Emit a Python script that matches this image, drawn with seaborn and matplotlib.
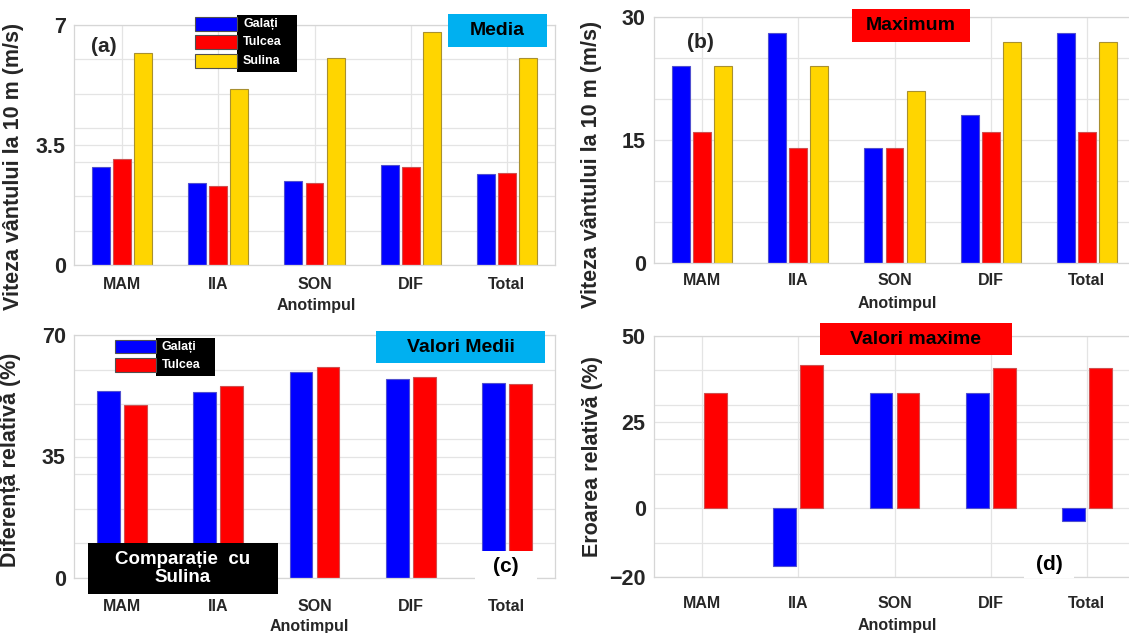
import matplotlib.pyplot as plt
import seaborn as sns
import pandas as pd
from matplotlib.patches import Rectangle

# Data
seasons = ['MAM', 'IIA', 'SON', 'DIF', 'Total']
stations = ['Galați', 'Tulcea', 'Sulina']
colors = ['#0000FF', '#FF0000', '#FFD500']
edges = ['#5050d0', '#d05050', '#a89030']

# (a) wind speed, mean (m/s)
mean_galati = [2.85, 2.39, 2.46, 2.92, 2.66]
mean_tulcea = [3.10, 2.30, 2.38, 2.86, 2.67]
mean_sulina = [6.17, 5.12, 6.04, 6.80, 6.03]
# (b) wind speed, maximum (m/s)
max_galati = [24, 28, 14, 18, 28]
max_tulcea = [16, 14, 14, 16, 16]
max_sulina = [24, 24, 21, 27, 27]
# (c) relative difference vs Sulina, mean values (%)
diff_galati = [54.0, 53.6, 59.3, 57.2, 56.2]
diff_tulcea = [49.8, 55.4, 60.9, 58.0, 56.0]
# (d) relative error vs Sulina, max values (%)
err_galati = [0.0, -16.7, 33.3, 33.3, -3.7]
err_tulcea = [33.3, 41.7, 33.3, 40.8, 40.8]

W, H = 1129, 633
sns.set_theme(style='white')
plt.rcParams['font.family'] = ['Liberation Sans', 'DejaVu Sans']
plt.rcParams['font.weight'] = 'bold'
plt.rcParams['axes.labelweight'] = 'bold'

fig = plt.figure(figsize=(W / 100, H / 100), dpi=100)


def bar_panel(rect, series, names, width, ylim, yticks, step, ylabel,
              ylab_xy, xlab_xy, xpad, vgrid=True):
    ax = fig.add_axes(rect)
    df = pd.DataFrame({
        'Anotimpul': seasons * len(series),
        'Statia': [n for n in names for _ in seasons],
        'val': [v for s in series for v in s],
    })
    sns.barplot(data=df, x='Anotimpul', y='val', hue='Statia', hue_order=names,
                palette=colors[:len(names)], saturation=1, width=width, gap=0.15,
                legend=False, ax=ax, linewidth=0.8)
    for cont, ec in zip(ax.containers, edges):
        for p in cont:
            p.set_edgecolor(ec)
            if p.get_height() == 0:
                p.set_linewidth(0)
    ax.set_ylim(*ylim)
    ax.set_xlim(-0.5, 4.5)
    ax.set_yticks(yticks)
    ax.set_yticklabels([f'{t:g}'.replace('-', '\u2212') for t in yticks])
    ax.set_yticks(list(range(ylim[0], ylim[1] + 1, step)), minor=True)
    ax.set_axisbelow(True)
    ax.grid(True, axis='y', which='both', color='#e4e4e4', lw=0.9)
    if vgrid:
        ax.grid(True, axis='x', which='major', color='#e4e4e4', lw=0.9)
    ax.tick_params(axis='both', which='both', length=0)
    ax.tick_params(axis='y', labelsize=15.5, pad=6)
    ax.tick_params(axis='x', labelsize=11.5, pad=xpad)
    for s in ax.spines.values():
        s.set_color('#d6d6d6')
        s.set_linewidth(0.9)
    ax.set_ylabel(ylabel, fontsize=15.5, fontweight='bold')
    ax.yaxis.set_label_coords(*ylab_xy)
    ax.set_xlabel('Anotimpul', fontsize=11.5, fontweight='bold')
    ax.xaxis.set_label_coords(*xlab_xy)
    ax.xaxis.label.set_va('center')
    return ax


def px_box(x0, y0, x1, y1, face, text='', tcolor='black', size=14):
    fig.add_artist(Rectangle((x0 / W, 1 - y1 / H), (x1 - x0) / W, (y1 - y0) / H,
                             transform=fig.transFigure, facecolor=face,
                             edgecolor='none', zorder=5))
    if text:
        fig.text((x0 + x1) / 2 / W, 1 - (y0 + y1) / 2 / H, text, ha='center',
                 va='center', color=tcolor, fontsize=size, fontweight='bold',
                 zorder=6, linespacing=1.15)


def px_legend(x0, x1, x2, rows, names):
    # colour patches on white, labels on a black box
    top, bot = rows[0][0] - 2, rows[-1][1] + 4
    fig.add_artist(Rectangle((x1 / W, 1 - bot / H), (x2 - x1) / W, (bot - top) / H,
                             transform=fig.transFigure, facecolor='black',
                             edgecolor='none', zorder=5))
    for (ya, yb), name, c in zip(rows, names, colors):
        fig.add_artist(Rectangle((x0 / W, 1 - yb / H), (x1 - x0) / W, (yb - ya) / H,
                                 transform=fig.transFigure, facecolor=c,
                                 edgecolor='#505050', lw=0.8, zorder=6))
        fig.text((x1 + 6) / W, 1 - (ya + yb) / 2 / H, name, ha='left', va='center',
                 color='white', fontsize=9, fontweight='bold', zorder=7)


ylab = 'Viteza vântului la 10 m (m/s)'

ax_a = bar_panel([74 / W, 1 - 265 / H, 481 / W, 240 / H],
                 [mean_galati, mean_tulcea, mean_sulina], stations, 0.66,
                 (0, 7), [0, 3.5, 7], 1, ylab, (-0.104, 0.41), (0.503, -0.167), 8.5)
ax_b = bar_panel([654 / W, 1 - 263 / H, 481 / W, 246 / H],
                 [max_galati, max_tulcea, max_sulina], stations, 0.66,
                 (0, 30), [0, 15, 30], 5, ylab, (-0.108, 0.40), (0.505, -0.163), 7)
ax_c = bar_panel([74 / W, 1 - 578 / H, 481 / W, 243 / H],
                 [diff_galati, diff_tulcea], stations[:2], 0.56,
                 (0, 70), [0, 35, 70], 10, 'Diferență relativă (%)',
                 (-0.11, 0.486), (0.49, -0.198), 15, vgrid=False)
ax_d = bar_panel([654 / W, 1 - 577 / H, 481 / W, 241 / H],
                 [err_galati, err_tulcea], stations[:2], 0.56,
                 (-20, 50), [-20, 0, 25, 50], 10, 'Eroarea relativă (%)',
                 (-0.106, 0.50), (0.505, -0.203), 14)

# panel annotations
px_box(448, 14, 547, 47, '#00B0F0', 'Media', size=14)
px_box(852, 9, 970, 42, '#FF0000', 'Maximum', size=14)
px_box(376, 331, 545, 363, '#00B0F0', 'Valori Medii', size=14)
px_box(820, 323, 1012, 355, '#FF0000', 'Valori maxime', size=14)
px_box(88, 543, 278, 594, 'black', 'Comparație  cu\nSulina', 'white', 13.5)
px_box(475, 551, 537, 583, 'white', '(c)', size=15)
px_box(1024, 550, 1074, 578, 'white', '(d)', size=15)
fig.text(104 / W, 1 - 47 / H, '(a)', ha='center', va='center', fontsize=15, fontweight='bold')
fig.text(700 / W, 1 - 42 / H, '(b)', ha='center', va='center', fontsize=15, fontweight='bold')

px_legend(195, 237, 297, [(17, 31), (35, 49), (54, 68)], stations)
px_legend(115, 156, 215, [(340, 353), (358, 372)], stations[:2])

fig.savefig('out.png', dpi=100)
